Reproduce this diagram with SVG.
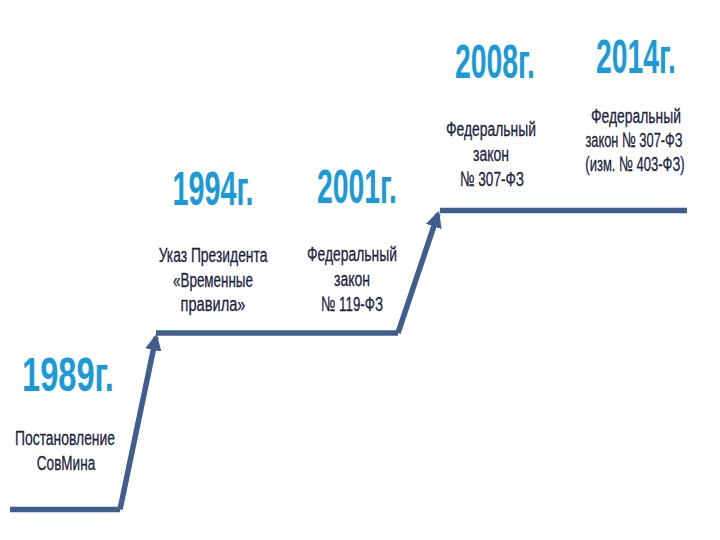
<svg xmlns="http://www.w3.org/2000/svg" width="720" height="540" viewBox="0 0 720 540">
<defs>
<style>
.yr{font-family:"Liberation Sans",Arial,sans-serif;font-weight:bold;font-size:49px;fill:#1a9ad8;text-anchor:middle}
.tx{font-family:"Liberation Sans",Arial,sans-serif;font-size:21px;fill:#1a2440;stroke:#1a2440;stroke-width:0.3;text-anchor:middle}
.ln{fill:none;stroke:#3f5e8e;stroke-width:5.5}
</style>
<marker id="ah" viewBox="0 0 10 10" refX="8" refY="5" markerWidth="3" markerHeight="3" orient="auto" markerUnits="strokeWidth">
<path d="M0,0 L10,5 L0,10 z" fill="#3f5e8e"/>
</marker>
</defs>
<rect width="720" height="540" fill="#ffffff"/>
<g id="connectors">
<path class="ln" d="M10,509.5 H120"/>
<path class="ln" d="M120,509.5 L156,337" marker-end="url(#ah)"/>
<path class="ln" d="M156,333 H398"/>
<path class="ln" d="M398,333 L438,214" marker-end="url(#ah)"/>
<path class="ln" d="M440,210.5 H687"/>
</g>
<g id="n1989">
<text class="yr" transform="translate(68,391) scale(0.54,1)" font-size="55" textLength="170" lengthAdjust="spacingAndGlyphs">1989г.</text>
<text class="tx" transform="translate(65,445) scale(0.72,1)" textLength="139" lengthAdjust="spacingAndGlyphs">Постановление</text>
<text class="tx" transform="translate(66,470) scale(0.72,1)" textLength="81" lengthAdjust="spacingAndGlyphs">СовМина</text>
</g>
<g id="n1994">
<text class="yr" transform="translate(213,205) scale(0.54,1)" textLength="150" lengthAdjust="spacingAndGlyphs">1994г.</text>
<text class="tx" transform="translate(213,262) scale(0.72,1)" textLength="151" lengthAdjust="spacingAndGlyphs">Указ Президента</text>
<text class="tx" transform="translate(213,287) scale(0.72,1)" textLength="111" lengthAdjust="spacingAndGlyphs">«Временные</text>
<text class="tx" transform="translate(213,311) scale(0.72,1)" textLength="90" lengthAdjust="spacingAndGlyphs">правила»</text>
</g>
<g id="n2001">
<text class="yr" transform="translate(357,203) scale(0.54,1)" textLength="148" lengthAdjust="spacingAndGlyphs">2001г.</text>
<text class="tx" transform="translate(352,261) scale(0.72,1)" textLength="125" lengthAdjust="spacingAndGlyphs">Федеральный</text>
<text class="tx" transform="translate(352,286) scale(0.72,1)" textLength="50" lengthAdjust="spacingAndGlyphs">закон</text>
<text class="tx" transform="translate(352,311) scale(0.72,1)" textLength="86" lengthAdjust="spacingAndGlyphs">№ 119-ФЗ</text>
</g>
<g id="n2008">
<text class="yr" transform="translate(495,78) scale(0.54,1)" textLength="148" lengthAdjust="spacingAndGlyphs">2008г.</text>
<text class="tx" transform="translate(491,136) scale(0.72,1)" textLength="125" lengthAdjust="spacingAndGlyphs">Федеральный</text>
<text class="tx" transform="translate(491,161) scale(0.72,1)" textLength="50" lengthAdjust="spacingAndGlyphs">закон</text>
<text class="tx" transform="translate(492,186) scale(0.72,1)" textLength="89" lengthAdjust="spacingAndGlyphs">№ 307-ФЗ</text>
</g>
<g id="n2014">
<text class="yr" transform="translate(636,73) scale(0.54,1)" font-size="52" textLength="148" lengthAdjust="spacingAndGlyphs">2014г.</text>
<text class="tx" transform="translate(636,123) scale(0.72,1)" textLength="125" lengthAdjust="spacingAndGlyphs">Федеральный</text>
<text class="tx" transform="translate(634,147) scale(0.72,1)" textLength="135" lengthAdjust="spacingAndGlyphs">закон № 307-ФЗ</text>
<text class="tx" transform="translate(635,171) scale(0.72,1)" textLength="138" lengthAdjust="spacingAndGlyphs">(изм. № 403-ФЗ)</text>
</g>
</svg>
